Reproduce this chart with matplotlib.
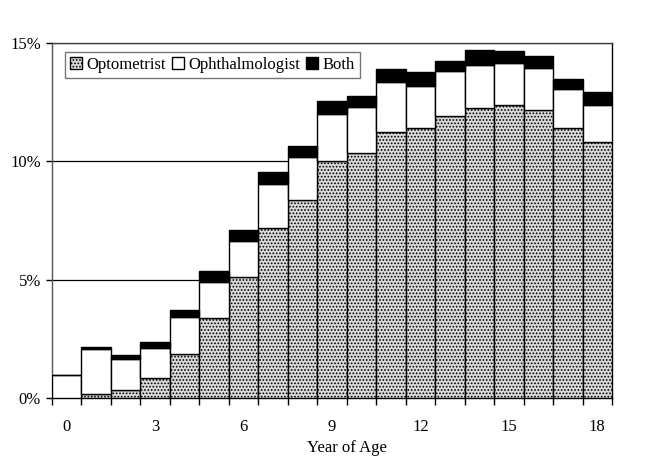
import matplotlib
matplotlib.use("Agg")
import matplotlib.pyplot as plt
import numpy as np

ages = list(range(19))
optometrist = [0.02, 0.17, 0.32, 0.85, 1.85, 3.37, 5.10, 7.18, 8.37, 10.0, 10.35,
               11.23, 11.41, 11.93, 12.24, 12.38, 12.15, 11.39, 10.83]
ophthalmologist = [0.95, 1.89, 1.34, 1.26, 1.56, 1.53, 1.53, 1.86, 1.81, 2.0, 1.95,
                   2.11, 1.79, 1.87, 1.84, 1.79, 1.78, 1.65, 1.55]
both = [0.0, 0.08, 0.14, 0.26, 0.29, 0.48, 0.47, 0.51, 0.47, 0.55, 0.46,
        0.55, 0.56, 0.45, 0.61, 0.48, 0.53, 0.45, 0.56]
yticks = [0, 5, 10, 15]
ytick_labels = ["0%", "5%", "10%", "15%"]
xtick_labels = [0, 3, 6, 9, 12, 15, 18]

plt.rcParams['font.family'] = ['Liberation Serif', 'DejaVu Serif']
plt.rcParams['hatch.color'] = '#7a7a7a'
plt.rcParams['hatch.linewidth'] = 0.8

fig = plt.figure(figsize=(6.68, 4.76), dpi=100)
ax = fig.add_axes([52/668, 1-398/476, 560/668, 355/476])

x = np.array(ages)
opt = np.array(optometrist)
oph = np.array(ophthalmologist)
bth = np.array(both)

ax.bar(x, opt, width=1.0, facecolor='#d9d9d9', hatch='.....', edgecolor='black',
       linewidth=1.0, label='Optometrist', zorder=3)
ax.bar(x, oph, width=1.0, bottom=opt, facecolor='white', edgecolor='black',
       linewidth=1.0, label='Ophthalmologist', zorder=3)
ax.bar(x, bth, width=1.0, bottom=opt+oph, facecolor='black', edgecolor='black',
       linewidth=1.0, label='Both', zorder=3)

ax.set_xlim(-0.5, 18.5)
ax.set_ylim(0, 15)
ax.set_yticks(yticks)
ax.set_yticklabels(ytick_labels, fontsize=12)
for yv in yticks[1:]:
    ax.axhline(yv, color='black', linewidth=0.9, zorder=1)

ax.set_xticks(np.arange(-0.5, 19, 1.0))
ax.set_xticklabels([])
ax.set_xticks(xtick_labels, minor=True)
ax.set_xticklabels([str(v) for v in xtick_labels], minor=True, fontsize=12)
ax.tick_params(axis='x', which='major', length=5, direction='out', width=1)
ax.tick_params(axis='x', which='minor', length=0, pad=15)
ax.tick_params(axis='y', length=4, direction='out', width=1, pad=4)
ax.set_xlabel('Year of Age', fontsize=12, labelpad=4, x=(347-52)/560)

for s in ax.spines.values():
    s.set_linewidth(1.0)
    s.set_color('black')
ax.spines['left'].set_color('#555555')
ax.spines['top'].set_color('#444444')

leg = ax.legend(loc='upper left', bbox_to_anchor=(0.017, 0.985), ncol=3, frameon=True,
                fancybox=False, edgecolor='#555555', fontsize=12, handlelength=0.7,
                handleheight=0.7, handletextpad=0.3, columnspacing=0.35,
                borderpad=0.3, borderaxespad=0.2)
leg.get_frame().set_linewidth(1.0)

fig.savefig('out.png', dpi=100)
